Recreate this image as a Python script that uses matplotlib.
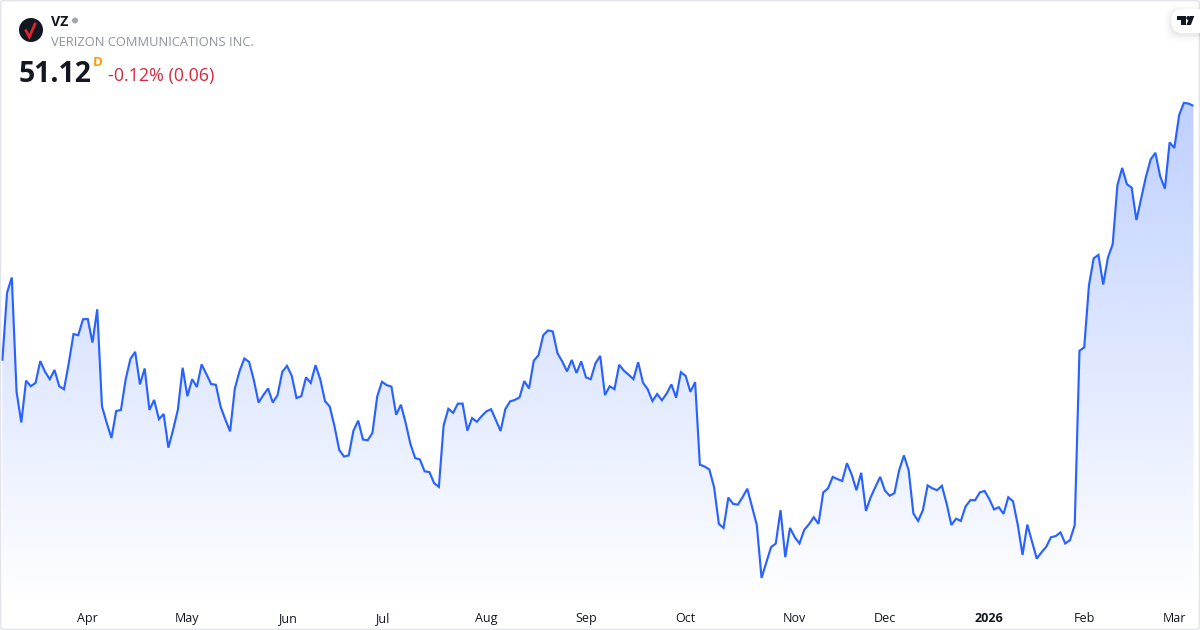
"""VZ one-year price card, area line with gradient fill."""
import numpy as np
import matplotlib
matplotlib.use("Agg")
import matplotlib.pyplot as plt
from matplotlib.patches import Circle, FancyBboxPatch, Polygon

plt.rcParams["font.family"] = ["Open Sans", "DejaVu Sans"]

# daily closes, one per session
closes = [
    44.23, 46.07, 46.48, 43.39, 42.56, 43.69, 43.54, 43.63, 44.22, 43.93,
    43.73, 43.98, 43.54, 43.46, 44.16, 44.95, 44.92, 45.35, 45.36, 44.72,
    45.62, 43.00, 42.55, 42.14, 42.87, 42.90, 43.73, 44.28, 44.47, 43.59,
    44.02, 42.90, 43.17, 42.65, 42.79, 41.88, 42.37, 42.91, 44.04, 43.27,
    43.73, 43.52, 44.13, 43.87, 43.60, 43.58, 42.99, 42.64, 42.32, 43.48,
    43.95, 44.29, 44.20, 43.71, 43.10, 43.30, 43.48, 43.10, 43.30, 43.93,
    44.09, 43.82, 43.22, 43.27, 43.78, 43.63, 44.11, 43.73, 43.14, 42.99,
    42.46, 41.82, 41.64, 41.67, 42.34, 42.61, 42.10, 42.08, 42.28, 43.26,
    43.66, 43.57, 43.53, 42.77, 43.04, 42.55, 41.98, 41.60, 41.56, 41.24,
    41.22, 40.92, 40.82, 42.48, 42.93, 42.82, 43.07, 43.07, 42.34, 42.68,
    42.58, 42.73, 42.86, 42.92, 42.63, 42.33, 42.92, 43.13, 43.17, 43.24,
    43.68, 43.48, 44.23, 44.38, 44.92, 45.05, 45.02, 44.43, 44.21, 43.94,
    44.25, 43.90, 44.21, 43.78, 43.73, 44.16, 44.36, 43.30, 43.54, 43.46,
    44.12, 43.96, 43.85, 43.73, 44.19, 43.64, 43.46, 43.14, 43.33, 43.16,
    43.34, 43.59, 43.23, 43.92, 43.82, 43.39, 43.65, 41.42, 41.37, 41.29,
    40.81, 39.82, 39.71, 40.53, 40.36, 40.34, 40.54, 40.77, 40.28, 39.79,
    38.36, 38.77, 39.19, 39.29, 40.19, 38.92, 39.71, 39.46, 39.29, 39.66,
    39.81, 40.00, 39.82, 40.67, 40.78, 41.09, 41.03, 40.98, 41.46, 41.15,
    40.73, 41.20, 40.17, 40.54, 40.82, 41.09, 40.72, 40.58, 40.65, 41.27,
    41.67, 41.27, 40.10, 39.90, 40.19, 40.86, 40.78, 40.73, 40.85, 40.37,
    39.79, 39.96, 39.90, 40.29, 40.46, 40.46, 40.67, 40.71, 40.49, 40.21,
    40.27, 40.09, 40.54, 40.43, 39.79, 38.98, 39.80, 39.34, 38.88, 39.05,
    39.20, 39.46, 39.49, 39.59, 39.29, 39.38, 39.79, 44.50, 44.59, 46.27,
    47.00, 47.09, 46.29, 47.02, 47.38, 48.98, 49.44, 49.00, 48.91, 48.03,
    48.62, 49.20, 49.67, 49.85, 49.22, 48.88, 50.13, 49.98, 50.87, 51.20,
    51.18, 51.12,
]
month_labels = ["Apr", "May", "Jun", "Jul", "Aug", "Sep", "Oct", "Nov", "Dec", "2026", "Feb", "Mar"]
month_index = [18, 39, 60, 80, 102, 123, 144, 167, 186, 208, 228, 247]

LINE = "#2962ff"
W, H = 1200, 630

fig = plt.figure(figsize=(W / 100, H / 100), dpi=100, facecolor="white")
ax = fig.add_axes([0, (H - 606) / H, 1, 606 / H])
ax.patch.set_alpha(0)
for s in ax.spines.values():
    s.set_visible(False)
ax.set_yticks([])
ax.set_xticks(month_index)
ax.set_xticklabels(month_labels, fontsize=9, color="#131722")
ax.tick_params(axis="x", length=0, pad=4.2)
ax.get_xticklabels()[month_labels.index("2026")].set_fontweight("bold")

# gradient under the line, clipped to the area below it
x = np.arange(len(closes))
verts = list(zip(x, closes)) + [(x[-1], 37.6), (x[0], 37.6)]
clip = Polygon(verts, closed=True, transform=ax.transData, fc="none", ec="none")
ax.add_patch(clip)
grad = np.zeros((256, 1, 4))
grad[..., 0], grad[..., 1], grad[..., 2] = 0x29 / 255, 0x62 / 255, 0xff / 255
grad[..., 3] = np.linspace(0.30, 0.0, 256)[:, None]
img = ax.imshow(grad, extent=(x[0], x[-1], 37.6, max(closes)), aspect="auto",
                interpolation="bilinear", origin="upper", zorder=1)
img.set_clip_path(clip)
ax.set_xlim(-0.49, 252.4)
ax.set_ylim(37.60, 53.98)
ax.plot(x, closes, color=LINE, lw=1.55, zorder=2, solid_joinstyle="miter", solid_capstyle="butt")

# overlay in pixel units for the card furniture
px = fig.add_axes([0, 0, 1, 1], zorder=5)
px.set_xlim(0, W)
px.set_ylim(H, 0)
px.axis("off")
px.add_patch(FancyBboxPatch((0.5, 0.5), W - 1, H - 1, boxstyle="round,pad=0,rounding_size=4",
                            fc="none", ec="#e3e5ea", lw=1.2))

# logo and header
px.add_patch(Circle((31, 30), 12, fc="#131722", ec="none"))
px.plot([26, 29.3, 35], [30.7, 37, 24], color="#e8262a", lw=1.9, solid_joinstyle="miter")
px.text(51, 21.5, "VZ", fontsize=10.2, fontweight="bold", color="#131722", va="center", ha="left")
px.add_patch(Circle((75, 20.5), 3, fc="#a3a6af", ec="none"))
px.text(51, 42, "VERIZON COMMUNICATIONS INC.", fontsize=9.3, color="#8f939c", va="center", ha="left")
px.text(19, 74.5, "51.12", fontsize=20.3, fontweight="bold", color="#131722", va="center", ha="left")
px.text(93, 62, "D", fontsize=9.5, fontweight="bold", color="#ff9800", va="center", ha="left")
px.text(108, 75.5, "-0.12% (0.06)", fontsize=12.9, color="#d6293e", va="center", ha="left")

# watermark badge
for grow, a in [(7, 0.008), (5, 0.012), (3.5, 0.016), (2, 0.02), (1, 0.025)]:
    px.add_patch(FancyBboxPatch((1171 - grow, 9 - grow + 2), 50 + grow, 24 + 2 * grow,
                                boxstyle="round,pad=0,rounding_size=12", fc="black", ec="none", alpha=a))
px.add_patch(FancyBboxPatch((1171, 9), 50, 24, boxstyle="round,pad=0,rounding_size=12", fc="white", ec="none"))
px.add_patch(Polygon([(1177.3, 16), (1186, 16), (1186, 25), (1181.3, 25), (1181.3, 20), (1177.3, 20)], fc="#131722", ec="none"))
px.add_patch(Circle((1188.3, 18), 2, fc="#131722", ec="none"))
px.add_patch(Polygon([(1190, 16), (1194.3, 16), (1190.8, 25), (1186.4, 25)], fc="#131722", ec="none"))

fig.savefig("out.png", dpi=100, facecolor="white")
